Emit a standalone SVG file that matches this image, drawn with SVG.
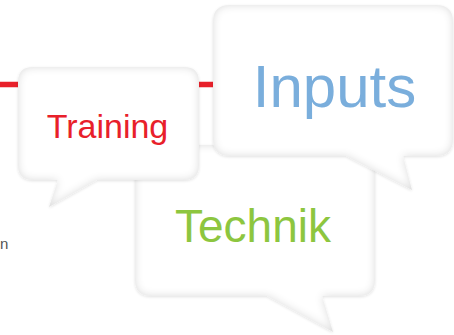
<svg xmlns="http://www.w3.org/2000/svg" width="454" height="335" viewBox="0 0 454 335">
<defs>
<filter id="bub" x="-10%" y="-10%" width="120%" height="120%">
<feFlood flood-color="#000" flood-opacity="0.3" result="f"/>
<feComposite in="f" in2="SourceAlpha" operator="out" result="o"/>
<feGaussianBlur in="o" stdDeviation="4.5" result="b"/>
<feComposite in="b" in2="SourceAlpha" operator="in" result="inner"/>
<feGaussianBlur in="SourceAlpha" stdDeviation="1.5" result="sb"/>
<feOffset in="sb" dx="0" dy="1" result="so"/>
<feComponentTransfer in="so" result="outer"><feFuncA type="linear" slope="0.12"/></feComponentTransfer>
<feMerge><feMergeNode in="outer"/><feMergeNode in="SourceGraphic"/><feMergeNode in="inner"/></feMerge>
</filter>
<style>
.b{fill:#fff;filter:url(#bub)}
.t{font-family:"Liberation Sans",Arial,sans-serif;text-anchor:middle}
</style>
</defs>
<rect width="454" height="335" fill="#fff"/>
<g id="connectors">
<line x1="0" y1="84.5" x2="215" y2="84.5" stroke="#e8202a" stroke-width="5.5"/>
</g>
<text x="0" y="249" font-family="Liberation Sans,Arial,sans-serif" font-size="15" fill="#555">n</text>
<g id="technik">
<path class="b" d="M151 145 H359 Q375 145 375 161 V280 Q375 296 359 296 H322 L333 332 L267 296 H151 Q135 296 135 280 V161 Q135 145 151 145 Z"/>
<text class="t" x="253" y="242" font-size="46" fill="#8dc63f">Technik</text>
</g>
<g id="training">
<path class="b" d="M33 67 H184 Q199 67 199 82 V165 Q199 180 184 180 H97 L49 207 L58 180 H33 Q18 180 18 165 V82 Q18 67 33 67 Z"/>
<text class="t" x="107.5" y="138" font-size="34" fill="#e8202a">Training</text>
</g>
<g id="inputs">
<path class="b" d="M230 5 H436 Q453 5 453 22 V139 Q453 156 436 156 H403 L412 190 L346 156 H230 Q213 156 213 139 V22 Q213 5 230 5 Z"/>
<text class="t" x="334.5" y="107" font-size="60" fill="#7aaedc">Inputs</text>
</g>
</svg>
